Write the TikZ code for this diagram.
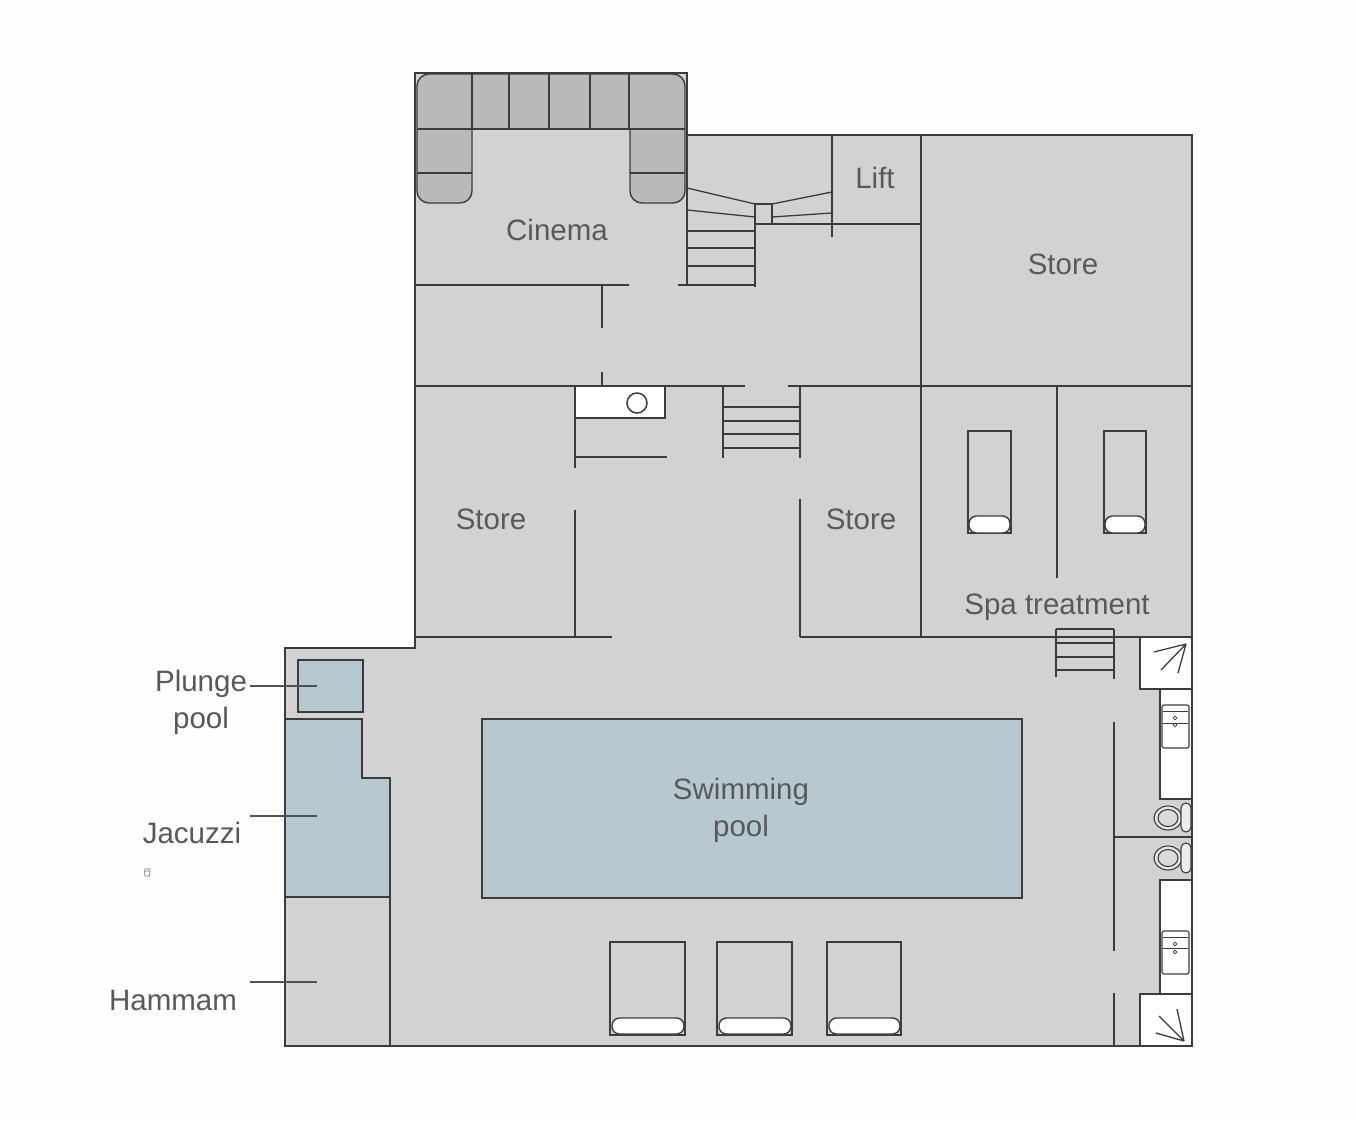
\documentclass[tikz,border=0pt]{standalone}
\usepackage{fontspec}
\setmainfont{Liberation Sans}
\definecolor{floorc}{HTML}{D2D2D2}
\definecolor{sofac}{HTML}{B9B9B9}
\definecolor{poolc}{HTML}{B8C8D1}
\definecolor{inkc}{HTML}{3C3C3C}
\definecolor{textc}{HTML}{58595B}
\definecolor{paperc}{HTML}{FEFEFE}
\tikzset{
  wall/.style={draw=inkc,line width=1.5pt},
  thin wall/.style={draw=inkc,line width=1.3pt},
  leader/.style={draw=inkc!90,line width=1.2pt},
  sofa/.style={draw=inkc,line width=1.4pt,fill=sofac},
  pool/.style={draw=inkc,line width=1.4pt,fill=poolc},
  whiteroom/.style={draw=inkc,line width=1.5pt,fill=white},
  pillow/.style={draw=inkc,line width=1.4pt,fill=white,rounded corners=7.5pt},
  fixture/.style={draw=inkc,line width=1.1pt},
  label/.style={text=textc,font=\fontsize{29.5}{37}\selectfont,align=center,inner sep=0pt}
}
\begin{document}
\begin{tikzpicture}[x=1pt,y=-1pt]
\useasboundingbox (0,0) rectangle (1356,1122);
\fill[paperc] (0,0) rectangle (1356,1122);
% floor
\filldraw[fill=floorc,wall] (415,73) -- (687,73) -- (687,135) -- (1192,135) -- (1192,1046) -- (285,1046) -- (285,648) -- (415,648) -- cycle;
% sofa
\path[sofa] (472,150) [rounded corners=12pt] -- (472,203) -- (417,203) -- (417,74) -- (685,74) -- (685,203) -- (630,203) -- (630,150) [sharp corners] -- (630,129) -- (472,129) -- cycle;
\draw[sofa] (417,129) -- (685,129);
\foreach \x in {472,509,549,590,629} \draw[sofa] (\x,74) -- (\x,129);
\draw[sofa] (417,173) -- (472,173) (630,173) -- (685,173);
\draw[wall] (415,73) -- (687,73);
% upper walls
\draw[wall] (415,285) -- (629,285);
\draw[wall] (678,285) -- (755,285);
\draw[wall] (687,135) -- (687,285);
\draw[wall] (755,204) -- (755,287);
\draw[wall] (755,224) -- (921,224);
\draw[wall] (772,204) -- (772,224);
\draw[wall] (755,204) -- (772,204);
\draw[wall] (832,135) -- (832,237);
\draw[thin wall] (687,188) -- (755,204) (687,210) -- (755,217);
\draw[thin wall] (772,204) -- (832,192) (772,217) -- (832,213);
\foreach \y in {231,248,266} \draw[thin wall] (687,\y) -- (755,\y);
\draw[wall] (602,285) -- (602,328);
\draw[wall] (602,372) -- (602,386);
\draw[wall] (921,135) -- (921,637);
\draw[wall] (415,386) -- (745,386);
\draw[wall] (788,386) -- (1192,386);
\draw[wall] (1057,386) -- (1057,578);
% service box
\filldraw[whiteroom] (575,386) rectangle (665,418);
\draw[wall] (637,403) circle (10);
\draw[wall] (575,418) -- (575,468);
\draw[wall] (575,457) -- (667,457);
% centre stairs
\draw[wall] (723,386) -- (723,458);
\draw[wall] (800,386) -- (800,458);
\foreach \y in {407,421,434,448} \draw[thin wall] (723,\y) -- (800,\y);
% lower walls
\draw[wall] (575,510) -- (575,637);
\draw[wall] (415,637) -- (612,637);
\draw[wall] (800,499) -- (800,637);
\draw[wall] (800,637) -- (1192,637);
% spa beds
\foreach \x/\w in {968/43,1104/42}{
  \draw[wall] (\x,431) rectangle ++(\w,102);
  \path[pillow] (\x+1,516) rectangle ++(\w-2,17);
}
% pool deck beds
\foreach \x/\w in {610/75,717/75,827/74}{
  \draw[wall] (\x,942) rectangle ++(\w,93);
  \path[pillow] (\x+2,1018) rectangle ++(\w-3,16);
}
% pools
\path[pool] (298,660) rectangle (363,712);
\path[pool] (285.5,719) -- (362,719) -- (362,778) -- (390,778) -- (390,897) -- (285.5,897) -- cycle;
\path[pool] (482,719) rectangle (1022,898);
\draw[wall] (390,897) -- (390,1046);
% leaders
\draw[leader] (250,686) -- (317,686);
\draw[leader] (250,816) -- (317,816);
\draw[leader] (250,982) -- (317,982);
% east stairs
\draw[wall] (1056,629) -- (1056,677);
\draw[wall] (1114,629) -- (1114,679);
\draw[wall] (1056,629) -- (1114,629);
\foreach \y in {643,657,670} \draw[thin wall] (1056,\y) -- (1114,\y);
\draw[wall] (1114,722) -- (1114,951);
\draw[wall] (1114,993) -- (1114,1046);
\draw[wall] (1114,837) -- (1192,837);
% white rooms
\filldraw[whiteroom] (1160,689) rectangle (1192,799);
\filldraw[whiteroom] (1160,880) rectangle (1192,994);
\filldraw[whiteroom] (1140,637) rectangle (1192,689);
\filldraw[whiteroom] (1140,994) rectangle (1192,1046);
\draw[thin wall] (1186,644) -- (1154,652) (1186,644) -- (1161,670) (1186,644) -- (1178,673);
\draw[thin wall] (1184,1041) -- (1156,1033) (1184,1041) -- (1159,1016) (1184,1041) -- (1177,1009);
% basins
\foreach \y/\a/\b/\c/\d in {705/711/723/718/725,931/937/948/944/952}{
  \draw[fixture,rounded corners=2pt] (1162,\y) rectangle (1189,\y+43);
  \draw[fixture,line width=.7pt] (1163,\a) -- (1188,\a) (1163,\b) -- (1188,\b);
  \draw[fixture,line width=.7pt] (1175,\c) circle (1.8) (1175,\d) circle (1.8);
}
% toilets
\foreach \c/\t/\b in {818/803/832,858/843/873}{
  \draw[fixture,fill=floorc!55] (1168,\c) ellipse (14 and 12);
  \draw[fixture,fill=floorc!80] (1168,\c) ellipse (10 and 8.5);
  \draw[fixture,fill=floorc!40,rounded corners=5pt] (1181,\t) rectangle (1191,\b);
}
% small mark
\draw[draw=inkc!70,line width=.7pt] (143.5,869) -- (151,869) (144.5,871) -- (150,871) -- (149.5,876) -- (145,876) -- cycle;
% labels
\node[label] (cinema) at (557,229.5) {Cinema};
\node[label] (lift) at (875,178) {Lift};
\node[label] (store1) at (1063,264) {Store};
\node[label] (store2) at (491,519) {Store};
\node[label] (store3) at (861,519) {Store};
\node[label] (spa) at (1057,607.5) {Spa treatment};
\node[label] (plunge) at (201,702.5) {Plunge\\pool};
\node[label] (jacuzzi) at (192,833) {Jacuzzi};
\node[label] (hammam) at (173,1000) {Hammam};
\node[label] (swim) at (741,810.5) {Swimming\\pool};
\end{tikzpicture}
\end{document}
